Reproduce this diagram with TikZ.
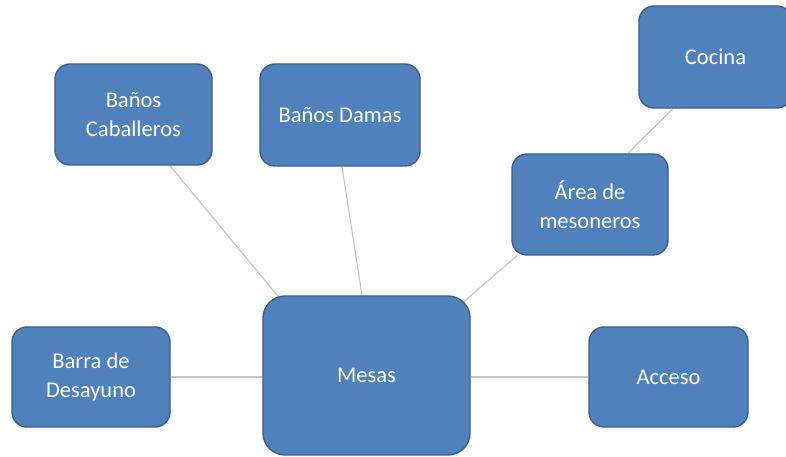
\documentclass[tikz,border=0pt]{standalone}
\usepackage{fontspec}
\setmainfont{Carlito}
\usetikzlibrary{calc}

\definecolor{boxfill}{HTML}{4F81BD}
\definecolor{boxline}{HTML}{3A5F8C}
\definecolor{linkgray}{HTML}{C8C4C0}

\pgfdeclarelayer{links}
\pgfsetlayers{links,main}

\tikzset{
  area/.style={draw=boxline, line width=1.4pt, fill=boxfill, rounded corners=15pt,
    text=white, align=center, inner sep=0pt,
    font=\fontsize{22.5}{29}\selectfont},
  link/.style={draw=linkgray, line width=1.1pt},
}

\begin{document}
\begin{tikzpicture}[x=1pt,y=1pt]
  \useasboundingbox (0,0) rectangle (786,457);

  \begin{scope}
    \clip (0,0) rectangle (786,457);
    \node[area, minimum width=157pt, minimum height=101pt] (cab) at (133.5,342.5) {Baños\\Caballeros};
    \node[area, minimum width=160pt, minimum height=102pt] (dam) at (340,342) {Baños Damas};
    \node[area, minimum width=153pt, minimum height=102pt] (coc) at (715.5,400) {Cocina};
    \node[area, minimum width=156pt, minimum height=101pt] (are) at (590,252.5) {Área de\\mesoneros};
    \node[area, minimum width=207pt, minimum height=159pt, rounded corners=22pt] (mes) at (366.5,81.5) {Mesas};
    \node[area, minimum width=158pt, minimum height=100pt] (bar) at (91,80) {Barra de\\Desayuno};
    \node[area, minimum width=159pt, minimum height=100pt] (acc) at (668.5,80) {Acceso};
  \end{scope}

  % white page and connectors sit underneath the boxes
  \begin{pgfonlayer}{links}
    \fill[white] (0,0) rectangle (786,457);
    \draw[link] ($(cab.south)+(36.5,0)$) -- ($(mes.north)+(-88.5,-1)$);
    \draw[link] ($(dam.south)+(2,0)$) -- ($(mes.north)+(-4.5,0)$);
    \draw[link] ($(are.south)+(-73,0)$) -- ($(mes.north)+(96.5,-7)$);
    \draw[link] ($(coc.south)+(-42.5,0)$) -- ($(are.north)+(38,0)$);
    \draw[link] (bar.east) -- (bar.east -| mes.west);
    \draw[link] (mes.east |- acc.west) -- (acc.west);
  \end{pgfonlayer}
\end{tikzpicture}
\end{document}
